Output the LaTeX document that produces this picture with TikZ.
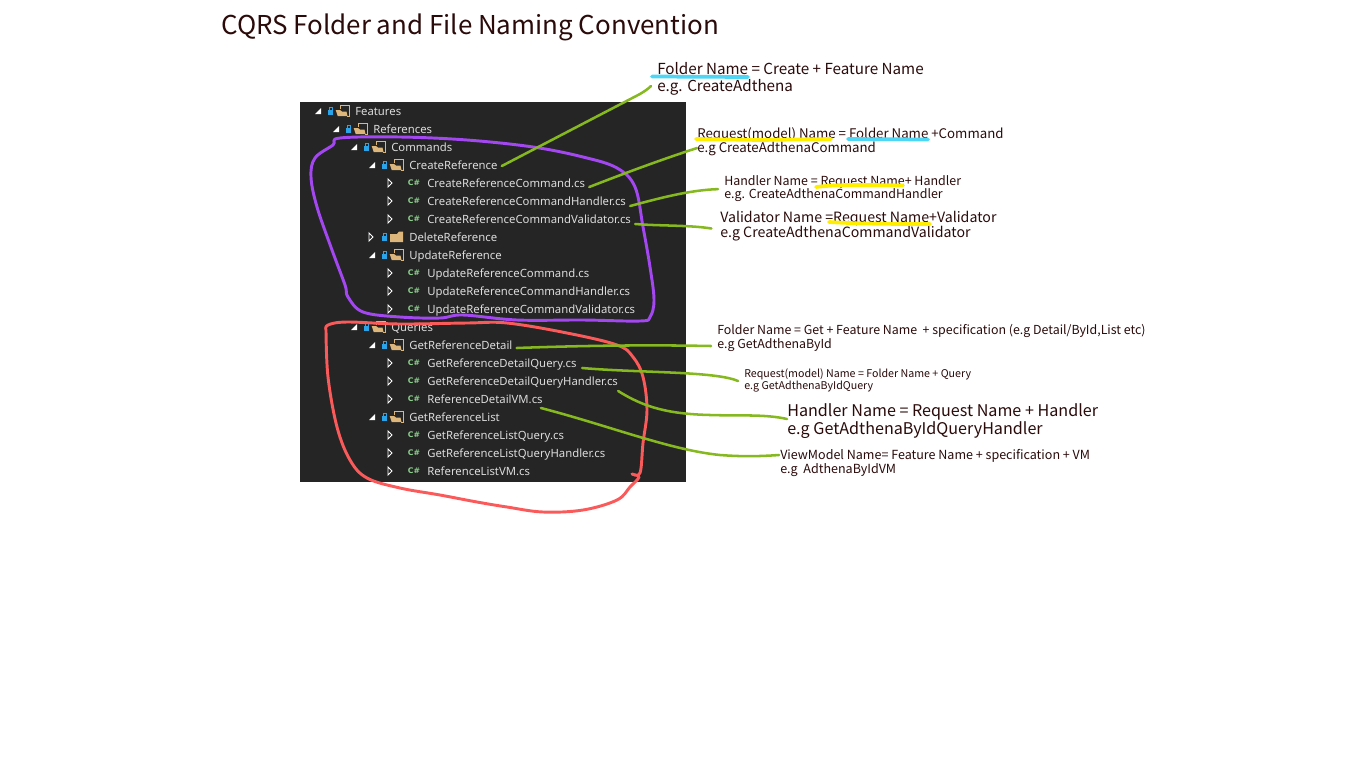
\documentclass[tikz,border=0pt]{standalone}
\usepackage{fontspec}
\setmainfont{Noto Sans}
\newfontfamily\notefont{Noto Sans CJK SC}
\newfontfamily\csfont{DejaVu Sans}
\lineskiplimit=-20pt
\definecolor{panelbg}{HTML}{252526}
\definecolor{treetext}{HTML}{DCDCDC}
\definecolor{foldertan}{HTML}{DCB67A}
\definecolor{lockblue}{HTML}{2AA3E8}
\definecolor{csgreen}{HTML}{8BD08B}
\definecolor{notetext}{HTML}{2B0A0A}
\definecolor{pengreen}{HTML}{86B81F}
\definecolor{penpurple}{HTML}{A347F0}
\definecolor{penred}{HTML}{FB5A5A}
\definecolor{pencyan}{HTML}{4FD6F5}
\definecolor{penyellow}{HTML}{FFEE00}
\tikzset{
    treelabel/.style={anchor=west,inner xsep=3pt,inner ysep=0pt,text height=6.5pt,text depth=2pt,text=treetext,font=\fontsize{8.5}{9}\selectfont},
    note/.style={anchor=west,align=left,inner xsep=4.5pt,inner ysep=0pt,text=notetext},
    link/.style={pengreen,line width=1.9pt,line cap=round},
    loopline/.style={line width=2.2pt,line join=round},
    mark over/.style={line width=2.8pt,line cap=round},
    pics/rowopen/.style={code={
        \fill[white] (-40,3) -- (-34,3) -- (-34,-3) -- cycle;
        \fill[lockblue] (-27,-1) rectangle (-22,4);
        \draw[lockblue,line width=.7pt] (-26,-1) -- (-26,-3.5) -- (-23,-3.5) -- (-23,-1);
        \draw[foldertan,line width=.7pt] (-15,-2) -- (-15,-5.7) -- (-6,-5.7) -- (-6,5) -- (-8,5);
        \fill[foldertan] (-19.3,-1) -- (-15,-1) -- (-13,0.5) -- (-8.5,0.5) -- (-7.5,5) -- (-17.3,5) -- cycle;
    }},
    pics/rowclosed/.style={code={
        \draw[white,line width=.7pt] (-40,-4) -- (-36,0) -- (-40,4) -- cycle;
        \fill[lockblue] (-27,-1) rectangle (-22,4);
        \draw[lockblue,line width=.7pt] (-26,-1) -- (-26,-3.5) -- (-23,-3.5) -- (-23,-1);
        \fill[foldertan] (-19,-3) -- (-12,-3) -- (-10,-5.5) -- (-6,-5.5) -- (-6,5) -- (-19,5) -- cycle;
    }},
    pics/rowfile/.style={code={
        \draw[white,line width=.7pt] (-39,-4) -- (-35,0) -- (-39,4) -- cycle;
    }}
}

\begin{document}
\begin{tikzpicture}[x=.75pt,y=-.75pt]
    \useasboundingbox (0,0) rectangle (1366,768);
    \fill[panelbg] (300,102) rectangle (686,482);

    \node[anchor=west,inner sep=0pt,text=notetext,font=\notefont\fontsize{19.45}{21}\selectfont] (title) at (221,27.5) {CQRS Folder and File Naming Convention};

    % Folder rows of the tree
    \foreach \nm/\x/\y/\lab in {
    features/355/111/Features,
    references/373/129/References,
    commands/391/147/Commands,
    createref/409/165/CreateReference,
    updateref/409/255/UpdateReference,
    queries/391/327/Queries,
    getdetail/409/345/GetReferenceDetail,
    getlist/409/417/GetReferenceList} {
    \pic at (\x,\y) {rowopen};
    \node[treelabel] (\nm) at (\x-4,\y+1) {\lab};
    }
    \pic at (409,237) {rowclosed};
    \node[treelabel] (deleteref) at (405,238) {DeleteReference};

    % File rows of the tree
    \foreach \nm/\y/\lab in {
    createcmd/183/CreateReferenceCommand.cs,
    createhnd/201/CreateReferenceCommandHandler.cs,
    createval/219/CreateReferenceCommandValidator.cs,
    updatecmd/273/UpdateReferenceCommand.cs,
    updatehnd/291/UpdateReferenceCommandHandler.cs,
    updateval/309/UpdateReferenceCommandValidator.cs,
    detailqry/363/GetReferenceDetailQuery.cs,
    detailhnd/381/GetReferenceDetailQueryHandler.cs,
    detailvm/399/ReferenceDetailVM.cs,
    listqry/435/GetReferenceListQuery.cs,
    listhnd/453/GetReferenceListQueryHandler.cs,
    listvm/471/ReferenceListVM.cs} {
    \pic at (427,\y) {rowfile};
    \node[anchor=center,inner sep=0pt,text=csgreen,font=\csfont\bfseries\fontsize{5.8}{6}\selectfont] (\nm-cs) at (414,\y) {C\#};
    \node[treelabel] (\nm) at (423,\y+1) {\lab};
    }

    % Notes on the right
    \foreach \nm/\x/\y/\fs/\ls/\txt in {
    notea/651/79/11.4/12.75/{Folder Name = Create + Feature Name\\e.g. CreateAdthena},
    noteb/691/141.5/9.95/10.5/{Request(model) Name = Folder Name +Command\\e.g CreateAdthenaCommand},
    notec/718/189/9.33/9.75/{Handler Name = Request Name+ Handler\\e.g. CreateAdthenaCommandHandler},
    noted/714/226.5/10.63/11.25/{Validator Name =Request Name+Validator\\e.g CreateAdthenaCommandValidator},
    notee/711/338/9.3/10.5/{Folder Name = Get + Feature Name\ \ + specification (e.g Detail/ById,List etc)\\e.g GetAdthenaById},
    notef/738/380/8/9/{Request(model) Name = Folder Name + Query\\e.g GetAdthenaByIdQuery},
    noteg/781/421/12.1/13.5/{Handler Name = Request Name + Handler\\e.g GetAdthenaByIdQueryHandler},
    noteh/774/463/9.4/10.5/{ViewModel Name= Feature Name + specification + VM\\e.g\ \ AdthenaByIdVM}} {
    \node[note,font=\notefont\fontsize{\fs}{\ls}\selectfont] (\nm) at (\x,\y) {\txt};
    }

    % Hand drawn loops
    \draw[loopline,penpurple] plot[smooth cycle,tension=.6] coordinates {
        (340,138) (400,137) (467,140) (533,147) (583,157) (617,168) (635,187) (643,227)
        (650,267) (654,300) (650,317) (640,321) (583,320) (517,320) (463,315) (440,318)
        (400,317) (363,312) (348,297) (345,285) (332,250) (317,207) (311,177) (315,158) (333,145)};
    \draw[loopline,penred] plot[smooth,tension=.6] coordinates {
        (326,330) (328,325) (347,322) (400,324) (467,323) (507,323) (567,333) (617,345)
        (633,357) (643,377) (647,410) (643,443) (640,473) (632,474) (639,477) (630,487)
        (617,500) (583,510) (543,512) (507,507) (477,502) (440,495) (400,488) (367,478)
        (350,460) (337,427) (328,377) (326,330)};

    % Connectors from the tree to the notes
    \draw[link] (createref.east) -- (640,94) .. controls (645,91) and (648,89) .. ([yshift=-5.25pt]notea.west);
    \draw[link] ([yshift=-2.25pt]createcmd.east) .. controls (620,175) and (660,160) .. ([xshift=4.5pt,yshift=-4.9pt]noteb.west);
    \draw[link] ([yshift=-3pt]createhnd.east) .. controls (660,198) and (690,190) .. ([yshift=-.1pt]notec.west);
    \draw[link] ([yshift=-3pt]createval.east) .. controls (660,226) and (690,225) .. ([xshift=-2pt,yshift=-1.5pt]noted.west);
    \draw[link] ([yshift=-1.5pt]getdetail.east) .. controls (600,345) and (660,345) .. ([yshift=-6pt]notee.west);
    \draw[link] ([xshift=1pt,yshift=-3pt]detailqry.east) .. controls (640,373) and (715,371) .. ([yshift=-.75pt]notef.west);
    \draw[link] ([xshift=-3pt,yshift=-6.75pt]detailhnd.east) .. controls (645,408) and (670,414) .. (710,415) .. controls (740,416) and (765,414) .. ([xshift=4.5pt,yshift=1.5pt]noteg.west);
    \draw[link] ([xshift=-4.5pt,yshift=-6pt]detailvm.east) .. controls (610,426) and (670,450) .. (720,455) .. controls (745,457) and (765,456) .. ([xshift=3.75pt,yshift=6pt]noteh.west);

    % Marks over the note texts
    \draw[mark over,pencyan] (652,76.5) -- (748,77);
    \draw[mark over,pencyan] (848,139) -- (928,139.5);
    \draw[mark over,penyellow] (696,139) -- (760,140) -- (831,139);
    \draw[mark over,penyellow] (816,187) .. controls (840,184) and (870,185) .. (903,185.5);
    \draw[mark over,penyellow] (829,222) .. controls (860,224) and (900,224) .. (930,224);
\end{tikzpicture}
\end{document}
